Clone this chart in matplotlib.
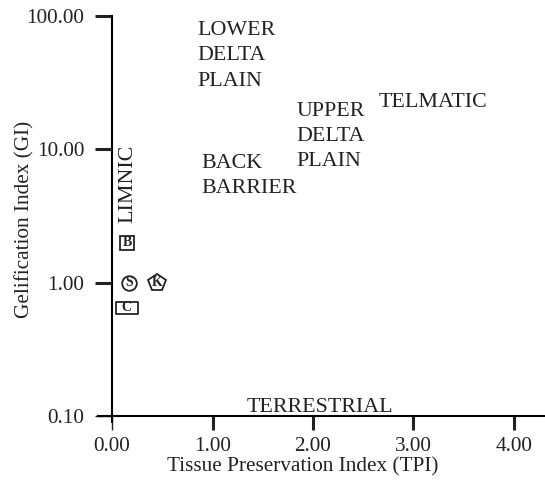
import matplotlib.pyplot as plt
from matplotlib.path import Path

plt.rcParams['font.family'] = ['Liberation Serif', 'DejaVu Serif']

# sample points (TPI, GI)
sample_ids = ['C', 'B', 'S', 'K']
tpi = [0.144, 0.15, 0.17, 0.45]
gi = [0.65, 2.0, 1.0, 1.0]

# facies field labels (x, y = start of last baseline)
field_names = ['LOWER\nDELTA\nPLAIN', 'UPPER\nDELTA\nPLAIN', 'TELMATIC',
               'BACK\nBARRIER', 'TERRESTRIAL']
field_x = [0.85, 1.835, 2.65, 0.89, 1.335]
field_y = [30.1, 7.46, 20.9, 4.68, 0.107]

x_ticks = [0, 1, 2, 3, 4]
x_ticklabels = ['0.00', '1.00', '2.00', '3.00', '4.00']
y_ticks = [0.1, 1, 10, 100]
y_ticklabels = ['0.10', '1.00', '10.00', '100.00']

fig = plt.figure(figsize=(5.45, 4.8), dpi=100)
ax = fig.add_axes([98 / 545, 1 - 422 / 480, 447 / 545, 406 / 480])
ax.set_yscale('log')
ax.set_xlim(-0.14, 4.31)
ax.set_ylim(0.0901, 100)

for s in ['top', 'right']:
    ax.spines[s].set_visible(False)
ax.spines['left'].set_position(('data', 0))
ax.spines['bottom'].set_position(('data', 0.1))
ax.spines['left'].set_linewidth(1.5)
ax.spines['bottom'].set_linewidth(1.5)

ax.set_xticks(x_ticks)
ax.set_xticklabels(x_ticklabels, fontsize=15.3)
ax.set_yticks(y_ticks)
ax.set_yticklabels(y_ticklabels, fontsize=15.3)
ax.minorticks_off()
ax.tick_params(axis='y', direction='out', length=12, width=2.2, pad=8, colors='#222222')
ax.tick_params(axis='x', direction='out', length=10, width=2.2, pad=5, colors='#222222')
ax.xaxis.get_major_ticks()[0].tick1line.set_markeredgewidth(1.0)
ax.yaxis.get_major_ticks()[0].tick1line.set_markeredgewidth(1.0)

ax.set_xlabel('Tissue Preservation Index (TPI)', fontsize=15.3, color='#222222')
ax.set_ylabel('Gelification Index (GI)', fontsize=15.3, color='#222222')
ax.xaxis.set_label_coords(0.459, -0.088)
ax.yaxis.set_label_coords(-0.143, 0.499)

# markers for samples
wide_box = Path([(-1, -0.5), (1, -0.5), (1, 0.5), (-1, 0.5), (-1, -0.5)],
                [Path.MOVETO, Path.LINETO, Path.LINETO, Path.LINETO, Path.CLOSEPOLY])
shapes = [wide_box, 's', 'o', 'p']
sizes = [16.5, 10, 10.5, 13]
for sid, x, y, m, ms in zip(sample_ids, tpi, gi, shapes, sizes):
    ax.plot(x, y, marker=m, markersize=ms, markerfacecolor='white',
            markeredgecolor='#222222', markeredgewidth=1.3, linestyle='none',
            clip_on=False, zorder=3)
    ax.text(x, y, sid, fontsize=10, fontweight='bold', ha='center',
            va='center', zorder=4, color='#222222')

for name, x, y in zip(field_names, field_x, field_y):
    ax.text(x, y, name, fontsize=15.8, ha='left', va='baseline',
            linespacing=1.45, color='#222222')

ax.text(0.206, 2.80, 'LIMNIC', fontsize=15.8, rotation=90, ha='left',
        va='baseline', rotation_mode='anchor', color='#222222')

fig.savefig('out.png', dpi=100)
